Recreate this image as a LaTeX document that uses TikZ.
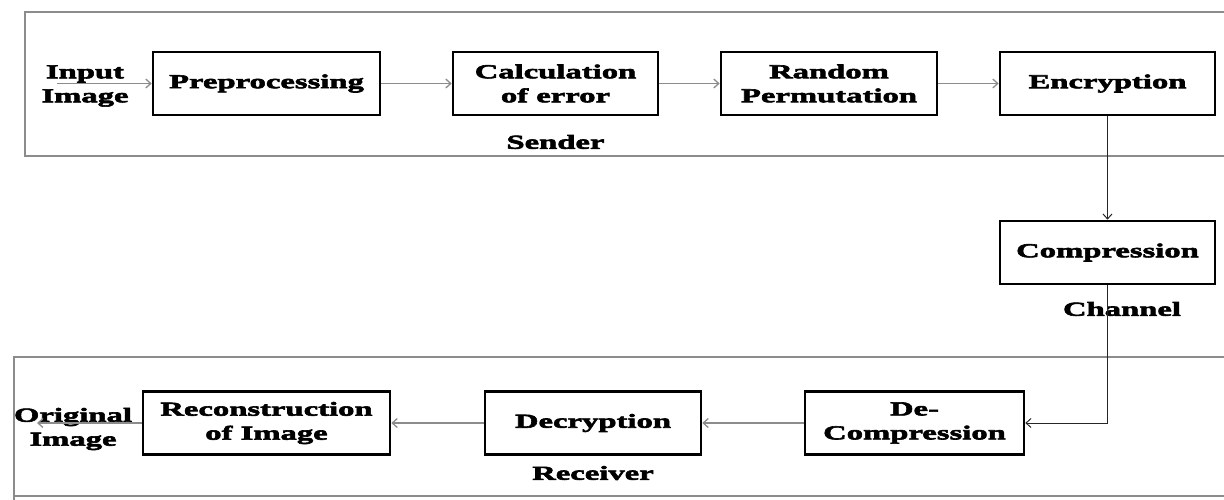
\documentclass[tikz,border=0pt]{standalone}
\usepackage{fontspec}
\usetikzlibrary{arrows.meta}
\newfontfamily\boxfont{Liberation Serif}[FakeStretch=1.65,FakeBold=3]

\begin{document}
\begin{tikzpicture}[x=1pt,y=-1pt,
    blk/.style={draw=black,line width=2.6pt,minimum height=63pt,inner sep=0pt,
      align=center,font=\fontsize{19.8}{24}\selectfont\boxfont\bfseries},
    lbl/.style={align=center,font=\fontsize{19.8}{24}\selectfont\boxfont\bfseries},
    frame/.style={draw=black!45,line width=1.6pt},
    link/.style={draw=black!45,line width=1.3pt,-{Straight Barb[length=5pt,width=9pt]}},
    dark/.style={draw=black!85,line width=1pt,-{Straight Barb[length=5pt,width=9pt]}}]
  \useasboundingbox (0,0) rectangle (1224,500);

  % Sender and Receiver frames
  \draw[frame] (1224,12) -- (25,12) -- (25,156) -- (1224,156);
  \draw[frame] (1224,357) -- (14,357) -- (14,500);
  \draw[frame] (14,496) -- (1224,496);

  % Sender
  \node[lbl] (input) at (85,86) {Input\\Image};
  \coordinate (start) at (57,83.5);
  \node[blk,minimum width=227pt] (pre)  at (266.5,83.5) {Preprocessing};
  \node[blk,minimum width=205pt] (calc) at (555.5,83.5) {Calculation\\of error};
  \node[blk,minimum width=216pt] (perm) at (829,83.5)   {Random\\Permutation};
  \node[blk,minimum width=215pt] (enc)  at (1107.5,83.5) {Encryption};
  \node[lbl] (sender) at (555.5,142) {Sender};

  % Channel
  \node[blk,minimum width=215pt] (comp) at (1107.5,252.5) {Compression};
  \node[lbl] (channel) at (1122,309) {Channel};

  % Receiver
  \node[blk,minimum width=219pt] (decomp) at (914.5,423) {De-\\Compression};
  \node[blk,minimum width=216pt] (dec)    at (593,423)   {Decryption};
  \node[blk,minimum width=247pt] (rec)    at (266.5,423) {Reconstruction\\of Image};
  \node[lbl] (receiver) at (593,473) {Receiver};
  \node[lbl] (output) at (73,429) {Original\\Image};
  \coordinate (stop) at (37,423);

  \draw[link] (start) -- (pre);
  \draw[link] (pre) -- (calc);
  \draw[link] (calc) -- (perm);
  \draw[link] (perm) -- (enc);
  \draw[dark] (enc) -- (comp);
  \draw[dark] (comp.south) |- (decomp.east);
  \draw[link] (decomp) -- (dec);
  \draw[link] (dec) -- (rec);
  \draw[link] (rec) -- (stop);
\end{tikzpicture}
\end{document}
